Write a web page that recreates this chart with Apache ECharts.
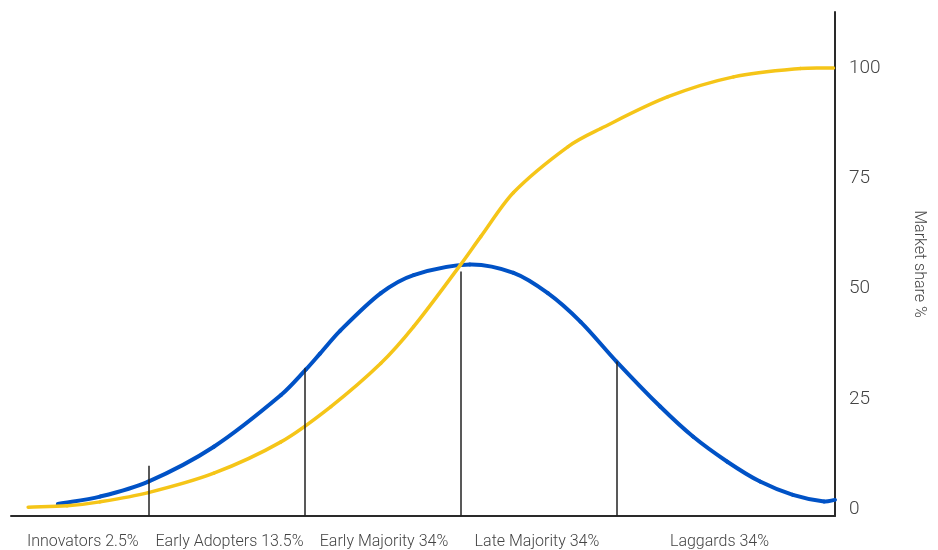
<!DOCTYPE html>
<html>
<head>
<meta charset="utf-8">
<title>Diffusion of innovations</title>
<script src="https://cdn.jsdelivr.net/npm/echarts@6/dist/echarts.min.js"></script>
<style>
  html, body { margin: 0; padding: 0; background: #ffffff; }
  #chart { width: 938px; height: 550px; }
</style>
</head>
<body>
<div id="chart"></div>
<script>
// x is measured in standard deviations from the mean adoption time

// Adopter groups: label, label position on the x axis
const groupNames = ['Innovators 2.5%', 'Early Adopters 13.5%', 'Early Majority 34%', 'Late Majority 34%', 'Laggards 34%'];
const groupLabelX = [-2.42, -1.48, -0.49, 0.49, 1.66];

// Group boundaries and how high each divider rises
const dividerX = [-2, -1, 0, 1];
const dividerTop = [9.9, 32, 53.9, 33.5];

// Adoption rate (bell curve)
const adoptionX = [-2.58, -2.31, -2.0, -1.58, -1.15, -0.99, -0.9, -0.77, -0.51, -0.3, 0.06, 0.34, 0.56, 0.77, 1.0, 1.28, 1.49, 1.71, 1.92, 2.13, 2.33, 2.40];
const adoptionY = [1.2, 2.9, 6.3, 14.2, 25.9, 31.7, 35.3, 40.5, 49.0, 53.1, 55.5, 53.6, 49.0, 42.5, 33.5, 23.3, 16.5, 10.8, 6.3, 3.3, 1.8, 2.15];

// Market share (cumulative S-curve)
const shareX = [-2.77, -2.52, -2.31, -2.0, -1.58, -1.15, -0.83, -0.51, -0.3, 0.0, 0.13, 0.34, 0.69, 0.9, 1.33, 1.75, 2.18, 2.39];
const shareY = [0.5, 0.8, 1.7, 3.8, 8.2, 15.3, 23.3, 33.1, 41.4, 55.4, 61.8, 71.8, 82.2, 86.3, 93.5, 98.0, 99.9, 100];

// Y axis tick labels
const yTicks = [0, 25, 50, 75, 100];

const font = 'Roboto, "Liberation Sans", Arial, sans-serif';
const zip = (xs, ys) => xs.map((x, i) => [x, ys[i]]);

// A curve through the data points as cubic Hermite segments (x-parametrised),
// positioned through the chart's own coordinate system.
function curveSeries(name, xs, ys, color, width, z) {
  return {
    name: name,
    type: 'custom',
    data: zip(xs, ys),
    encode: { x: 0, y: 1 },
    z: z,
    silent: true,
    renderItem: function (params, api) {
      if (params.dataIndex !== 0) return null;
      const pts = xs.map((x, i) => api.coord([x, ys[i]]));
      const n = pts.length;
      const slope = pts.map((p, i) => {
        const a = pts[Math.max(i - 1, 0)];
        const b = pts[Math.min(i + 1, n - 1)];
        return (b[1] - a[1]) / (b[0] - a[0]);
      });
      const children = [];
      for (let i = 0; i < n - 1; i++) {
        const p = pts[i], q = pts[i + 1];
        const d = (q[0] - p[0]) / 3;
        children.push({
          type: 'bezierCurve',
          shape: {
            x1: p[0], y1: p[1],
            cpx1: p[0] + d, cpy1: p[1] + slope[i] * d,
            cpx2: q[0] - d, cpy2: q[1] - slope[i + 1] * d,
            x2: q[0], y2: q[1]
          },
          style: { stroke: color, lineWidth: width, fill: null, lineCap: 'round' }
        });
      }
      return { type: 'group', children: children };
    }
  };
}

const chart = echarts.init(document.getElementById('chart'), null, { renderer: 'canvas' });

chart.setOption({
  backgroundColor: '#ffffff',
  animation: false,
  grid: { left: 11, right: 103, top: 12, bottom: 34, containLabel: false },
  xAxis: {
    type: 'value',
    min: -2.88,
    max: 2.4,
    axisLine: { show: true, onZero: false, lineStyle: { color: '#2a2a2a', width: 2 } },
    axisTick: { show: false },
    splitLine: { show: false },
    axisLabel: {
      customValues: groupLabelX,
      margin: 18,
      fontFamily: font,
      fontWeight: 300,
      fontSize: 16,
      color: '#444',
      formatter: function (v) {
        let best = 0;
        groupLabelX.forEach((g, i) => { if (Math.abs(g - v) < Math.abs(groupLabelX[best] - v)) best = i; });
        return groupNames[best];
      }
    }
  },
  yAxis: {
    type: 'value',
    position: 'right',
    min: -1.5,
    max: 112.7,
    name: 'Market share %',
    nameLocation: 'middle',
    nameRotate: -90,
    nameGap: 76,
    nameTextStyle: { fontFamily: font, fontWeight: 300, fontSize: 16, color: '#444' },
    axisLine: { show: true, onZero: false, lineStyle: { color: '#2a2a2a', width: 2 } },
    axisTick: { show: false },
    splitLine: { show: false },
    axisLabel: {
      customValues: yTicks,
      margin: 14,
      fontFamily: font,
      fontWeight: 300,
      fontSize: 19,
      color: '#444'
    }
  },
  series: [
    {
      name: 'Dividers',
      type: 'line',
      data: [],
      silent: true,
      markLine: {
        silent: true,
        symbol: 'none',
        label: { show: false },
        lineStyle: { color: '#222', width: 1.5, type: 'solid' },
        data: dividerX.map((x, i) => [{ coord: [x, -1.5] }, { coord: [x, dividerTop[i]] }])
      }
    },
    curveSeries('Adoption', adoptionX, adoptionY, '#0052C6', 4, 2),
    curveSeries('Market share', shareX, shareY, '#F5C518', 3.5, 3)
  ]
});
</script>
</body>
</html>
